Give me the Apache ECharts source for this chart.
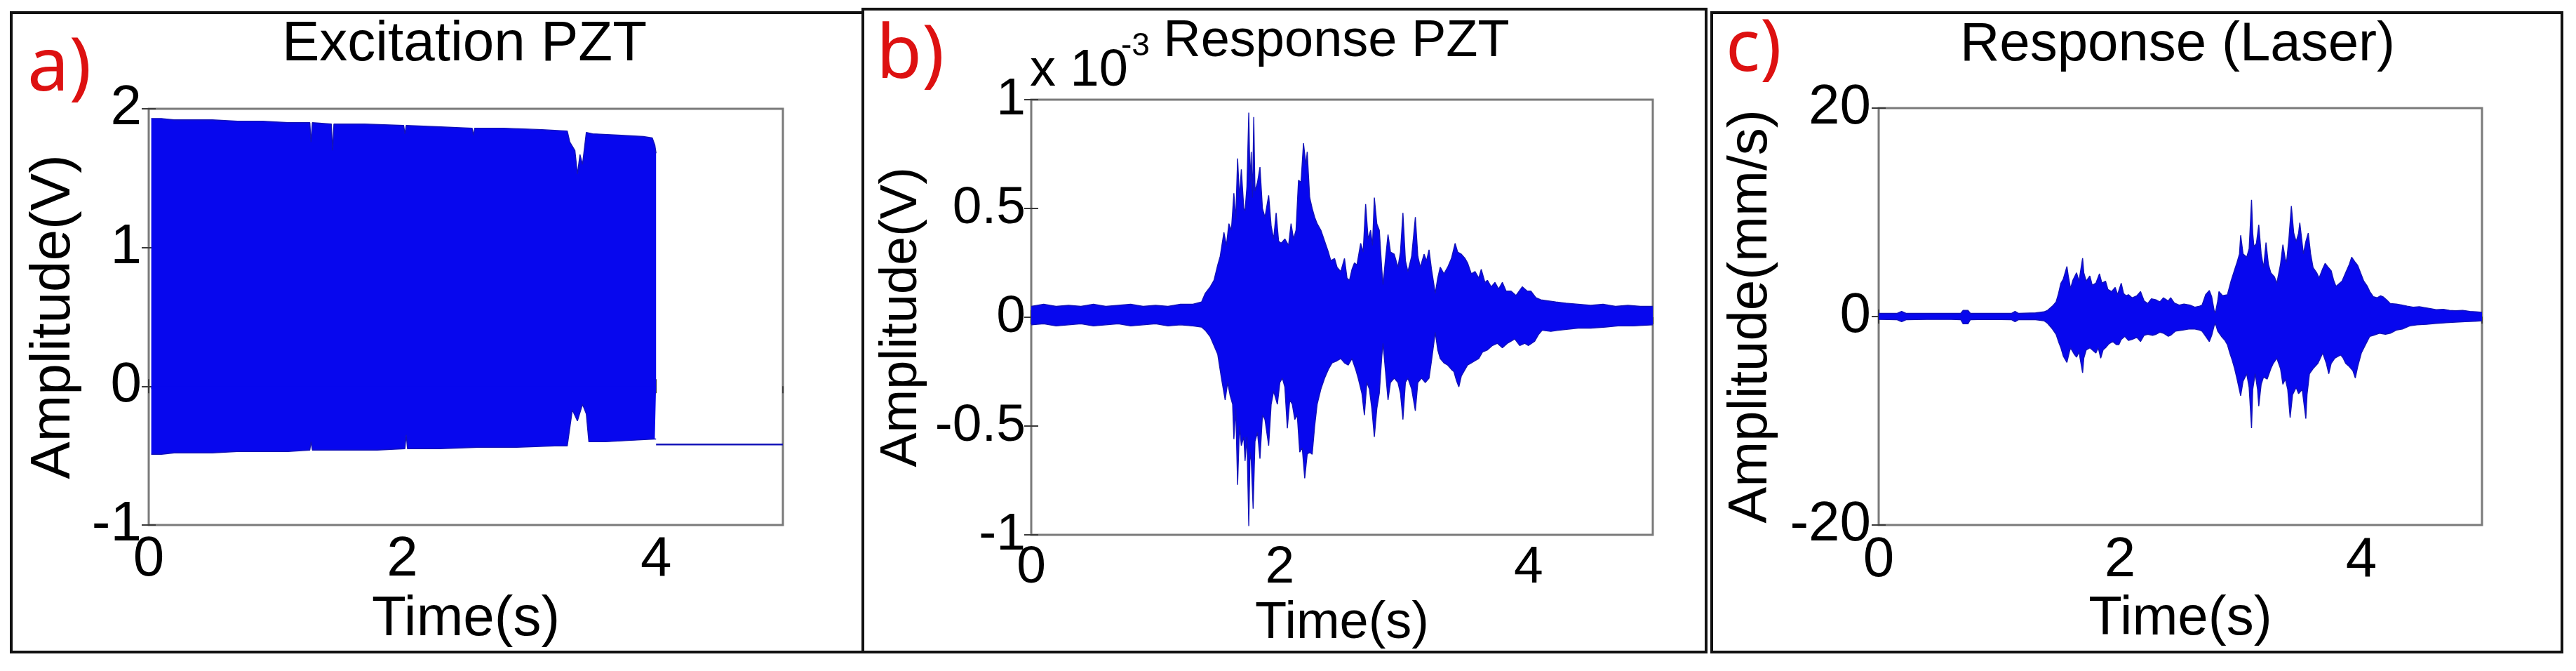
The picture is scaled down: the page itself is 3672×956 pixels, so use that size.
<!DOCTYPE html>
<html>
<head>
<meta charset="utf-8">
<script src="https://cdn.jsdelivr.net/npm/echarts@6.0.0/dist/echarts.min.js"></script>
<style>
html,body{margin:0;padding:0;background:#fff;}
#chart{width:3672px;height:956px;}
</style>
</head>
<body>
<div id="chart"></div>
<script>
// ---------- DATA ----------
// x tick labels (seconds)
const timeTicks = [0, 2, 4];
// y tick labels per panel
const excTicks = [-1, 0, 1, 2];
const respPztTicks = [-1, -0.5, 0, 0.5, 1];   // x 10^-3 V
const laserTicks = [-20, 0, 20];

// a) Excitation PZT : upper / lower envelope of the burst (V)
const excUpperT = [0.02,0.05,0.10,0.20,0.30,0.50,0.70,0.90,1.10,1.27,1.28,1.29,1.44,1.45,1.46,1.70,2.01,2.02,2.03,2.30,2.55,2.56,2.57,2.80,3.10,3.30,3.32,3.36,3.38,3.40,3.42,3.45,3.50,3.70,3.90,3.97,3.99,4.00];
const excUpper  = [1.93,1.93,1.93,1.92,1.92,1.92,1.91,1.91,1.90,1.90,1.76,1.90,1.89,1.70,1.89,1.89,1.88,1.82,1.88,1.87,1.86,1.81,1.86,1.86,1.85,1.84,1.76,1.70,1.53,1.67,1.60,1.83,1.82,1.81,1.80,1.79,1.74,1.68];
const excLowerT = [0.02,0.05,0.10,0.20,0.30,0.50,0.70,0.90,1.10,1.27,1.28,1.29,1.50,1.80,2.02,2.03,2.04,2.30,2.60,2.90,3.20,3.30,3.32,3.34,3.38,3.42,3.45,3.47,3.60,3.80,3.99,4.00];
const excLower  = [-0.49,-0.49,-0.49,-0.48,-0.48,-0.48,-0.47,-0.47,-0.47,-0.46,-0.40,-0.46,-0.46,-0.46,-0.45,-0.35,-0.45,-0.45,-0.44,-0.44,-0.43,-0.43,-0.30,-0.17,-0.25,-0.13,-0.20,-0.40,-0.40,-0.39,-0.38,-0.38];
// after the burst the excitation rests at a constant offset
const excTailT = [4.0, 5.0];
const excTail  = [-0.42, -0.42];

// b) Response PZT (x 10^-3 V)
const respPztUpperT = [0,0.1,0.2,0.3,0.4,0.5,0.6,0.7,0.8,0.9,1.0,1.1,1.2,1.3,1.37,1.40,1.44,1.47,1.50,1.52,1.55,1.57,1.59,1.61,1.63,1.645,1.66,1.675,1.69,1.71,1.72,1.735,1.75,1.76,1.77,1.78,1.79,1.80,1.82,1.84,1.86,1.88,1.91,1.93,1.95,1.97,1.99,2.01,2.04,2.07,2.09,2.11,2.13,2.15,2.17,2.19,2.21,2.22,2.24,2.26,2.28,2.30,2.33,2.36,2.39,2.41,2.44,2.46,2.49,2.52,2.54,2.56,2.58,2.60,2.62,2.65,2.67,2.69,2.71,2.73,2.745,2.76,2.78,2.80,2.82,2.83,2.85,2.87,2.89,2.92,2.95,2.97,2.99,3.01,3.03,3.06,3.09,3.11,3.13,3.16,3.18,3.20,3.22,3.25,3.27,3.29,3.32,3.35,3.38,3.41,3.43,3.46,3.49,3.51,3.54,3.57,3.60,3.62,3.65,3.67,3.70,3.73,3.76,3.79,3.82,3.86,3.90,3.95,3.99,4.02,4.06,4.10,4.16,4.22,4.30,4.40,4.50,4.60,4.70,4.80,4.90,5.0];
const respPztUpper  = [0.05,0.06,0.05,0.055,0.05,0.06,0.05,0.055,0.06,0.05,0.055,0.05,0.06,0.06,0.07,0.11,0.14,0.17,0.24,0.28,0.39,0.33,0.43,0.40,0.57,0.45,0.73,0.55,0.68,0.50,0.49,0.60,0.94,0.62,0.76,0.55,0.92,0.58,0.62,0.69,0.50,0.46,0.56,0.42,0.36,0.48,0.35,0.34,0.36,0.33,0.43,0.36,0.40,0.63,0.62,0.80,0.70,0.76,0.55,0.50,0.46,0.43,0.40,0.35,0.30,0.26,0.27,0.23,0.21,0.27,0.18,0.17,0.22,0.25,0.24,0.34,0.30,0.52,0.36,0.40,0.33,0.55,0.43,0.40,0.22,0.15,0.27,0.38,0.30,0.29,0.23,0.30,0.48,0.26,0.21,0.28,0.46,0.28,0.23,0.29,0.26,0.31,0.22,0.11,0.18,0.23,0.20,0.23,0.27,0.34,0.30,0.29,0.27,0.25,0.20,0.21,0.18,0.22,0.16,0.17,0.14,0.16,0.13,0.16,0.12,0.12,0.10,0.14,0.12,0.12,0.09,0.08,0.075,0.07,0.065,0.06,0.055,0.06,0.05,0.055,0.05,0.05];
const respPztLowerT = [0,0.1,0.2,0.3,0.4,0.5,0.6,0.7,0.8,0.9,1.0,1.1,1.2,1.3,1.37,1.40,1.44,1.47,1.50,1.53,1.56,1.58,1.60,1.62,1.63,1.645,1.66,1.675,1.69,1.71,1.72,1.735,1.75,1.76,1.77,1.785,1.80,1.82,1.84,1.86,1.88,1.91,1.93,1.95,1.98,2.00,2.02,2.04,2.06,2.08,2.10,2.12,2.14,2.16,2.18,2.20,2.22,2.24,2.26,2.28,2.30,2.33,2.36,2.39,2.42,2.46,2.49,2.52,2.55,2.58,2.61,2.63,2.66,2.68,2.70,2.72,2.74,2.76,2.78,2.80,2.82,2.83,2.85,2.87,2.89,2.92,2.95,2.97,2.99,3.01,3.03,3.06,3.09,3.11,3.14,3.17,3.20,3.22,3.25,3.27,3.29,3.32,3.35,3.38,3.40,3.42,3.44,3.46,3.48,3.51,3.54,3.57,3.60,3.63,3.67,3.71,3.75,3.79,3.83,3.86,3.89,3.93,3.97,4.00,4.05,4.08,4.11,4.18,4.24,4.32,4.40,4.50,4.62,4.72,4.84,5.0];
const respPztLower  = [-0.035,-0.03,-0.04,-0.035,-0.03,-0.04,-0.035,-0.03,-0.04,-0.035,-0.03,-0.04,-0.035,-0.04,-0.045,-0.06,-0.09,-0.13,-0.17,-0.28,-0.38,-0.30,-0.36,-0.40,-0.56,-0.42,-0.77,-0.50,-0.59,-0.55,-0.66,-0.55,-0.96,-0.62,-0.66,-0.88,-0.57,-0.53,-0.65,-0.45,-0.47,-0.59,-0.40,-0.34,-0.40,-0.30,-0.28,-0.32,-0.51,-0.38,-0.40,-0.47,-0.45,-0.62,-0.60,-0.74,-0.63,-0.62,-0.63,-0.50,-0.40,-0.33,-0.28,-0.24,-0.21,-0.20,-0.19,-0.21,-0.22,-0.19,-0.24,-0.28,-0.35,-0.45,-0.30,-0.33,-0.42,-0.55,-0.42,-0.35,-0.18,-0.12,-0.25,-0.38,-0.30,-0.28,-0.30,-0.35,-0.47,-0.30,-0.28,-0.33,-0.43,-0.30,-0.28,-0.30,-0.28,-0.20,-0.07,-0.15,-0.19,-0.21,-0.22,-0.24,-0.25,-0.29,-0.32,-0.27,-0.25,-0.22,-0.21,-0.20,-0.19,-0.16,-0.15,-0.13,-0.12,-0.14,-0.12,-0.11,-0.10,-0.13,-0.12,-0.13,-0.11,-0.08,-0.06,-0.065,-0.06,-0.055,-0.05,-0.05,-0.045,-0.04,-0.04,-0.035];

// c) Response (Laser) (mm/s)
const laserUpperT = [0,0.15,0.19,0.23,0.4,0.6,0.68,0.70,0.74,0.76,0.9,1.1,1.13,1.16,1.30,1.37,1.40,1.44,1.47,1.49,1.51,1.53,1.56,1.57,1.59,1.61,1.64,1.66,1.69,1.70,1.72,1.75,1.77,1.80,1.83,1.85,1.88,1.90,1.93,1.96,1.98,2.01,2.03,2.05,2.07,2.10,2.14,2.17,2.20,2.23,2.26,2.30,2.33,2.36,2.40,2.42,2.45,2.49,2.53,2.58,2.62,2.66,2.68,2.71,2.74,2.76,2.78,2.79,2.81,2.82,2.85,2.89,2.92,2.95,2.97,2.99,3.00,3.02,3.05,3.07,3.09,3.10,3.11,3.13,3.15,3.17,3.19,3.21,3.23,3.25,3.28,3.30,3.33,3.35,3.37,3.38,3.40,3.42,3.44,3.46,3.48,3.49,3.51,3.52,3.54,3.56,3.58,3.60,3.63,3.65,3.68,3.70,3.72,3.75,3.77,3.79,3.82,3.84,3.87,3.90,3.92,3.95,3.97,4.00,4.02,4.05,4.07,4.10,4.13,4.16,4.18,4.21,4.24,4.29,4.34,4.38,4.43,4.48,4.53,4.58,4.62,4.68,4.73,4.78,4.84,4.90,4.95,5.0];
const laserUpper  = [0.3,0.3,0.5,0.3,0.3,0.3,0.3,0.6,0.6,0.3,0.3,0.3,0.5,0.3,0.35,0.45,0.6,1.0,1.4,2.2,3.2,3.6,4.8,4.0,2.7,3.5,4.2,3.4,5.6,4.2,3.4,3.9,3.0,3.2,4.1,3.2,3.4,2.6,2.4,2.8,2.1,3.2,2.2,2.0,2.1,1.8,2.0,2.4,1.5,1.25,1.7,1.6,1.4,1.8,1.5,1.8,1.3,1.1,1.2,1.1,0.9,1.0,1.1,2.1,2.5,1.9,0.6,0.35,1.5,2.4,2.0,2.1,3.4,4.5,5.2,6.0,7.8,6.0,5.7,6.5,11.2,8.0,6.7,7.0,8.8,6.0,4.7,7.1,5.0,4.2,3.8,3.2,5.0,6.9,5.5,5.2,7.5,10.6,8.0,7.2,8.0,9.0,7.0,6.0,7.2,8.0,6.0,4.7,4.2,3.7,4.6,5.1,4.8,4.4,3.5,2.9,3.2,3.4,4.2,5.0,5.7,5.2,4.9,4.0,3.4,2.9,2.4,1.9,1.8,2.0,1.9,1.6,1.25,1.2,1.1,1.0,0.9,0.95,0.85,0.75,0.66,0.7,0.6,0.56,0.6,0.5,0.45,0.4];
const laserLowerT = [0,0.15,0.19,0.23,0.4,0.6,0.68,0.70,0.74,0.76,0.9,1.1,1.13,1.16,1.30,1.37,1.40,1.44,1.47,1.49,1.51,1.53,1.56,1.58,1.59,1.62,1.64,1.66,1.69,1.70,1.72,1.75,1.78,1.80,1.82,1.84,1.86,1.88,1.91,1.94,1.97,1.99,2.01,2.04,2.07,2.10,2.14,2.17,2.20,2.23,2.27,2.30,2.33,2.36,2.40,2.42,2.46,2.52,2.57,2.62,2.66,2.68,2.71,2.74,2.76,2.78,2.79,2.81,2.84,2.87,2.89,2.91,2.93,2.95,2.97,3.00,3.02,3.05,3.07,3.09,3.10,3.12,3.14,3.15,3.17,3.19,3.22,3.25,3.27,3.30,3.33,3.35,3.37,3.39,3.41,3.43,3.46,3.48,3.51,3.54,3.55,3.57,3.60,3.64,3.66,3.68,3.71,3.73,3.75,3.78,3.81,3.83,3.85,3.87,3.90,3.93,3.95,3.97,4.00,4.03,4.07,4.10,4.15,4.20,4.24,4.29,4.34,4.40,4.46,4.54,4.62,4.70,4.78,4.86,4.94,5.0];
const laserLower  = [-0.28,-0.3,-0.5,-0.3,-0.28,-0.28,-0.3,-0.7,-0.7,-0.3,-0.28,-0.3,-0.5,-0.3,-0.3,-0.4,-0.66,-1.2,-1.7,-2.4,-3.0,-3.8,-4.4,-3.4,-3.0,-3.6,-3.9,-3.4,-5.4,-4.0,-3.2,-3.0,-3.3,-3.5,-3.0,-4.0,-3.2,-3.0,-2.6,-2.4,-2.7,-2.7,-2.2,-1.9,-2.3,-2.2,-2.0,-2.4,-1.8,-1.7,-1.8,-1.7,-1.5,-1.6,-1.9,-1.8,-1.4,-1.3,-1.2,-1.2,-1.3,-1.4,-1.9,-2.4,-1.8,-0.9,-0.66,-1.4,-1.9,-2.3,-2.7,-3.5,-4.2,-5.0,-6.0,-7.6,-6.2,-5.5,-6.8,-10.7,-7.0,-5.5,-7.0,-8.6,-6.5,-5.8,-6.0,-5.0,-4.5,-4.0,-5.0,-6.5,-6.0,-7.0,-9.7,-7.5,-6.8,-7.4,-7.0,-9.8,-7.5,-5.5,-5.0,-4.5,-4.0,-3.5,-4.5,-5.5,-4.5,-4.0,-3.8,-3.7,-4.0,-4.5,-4.8,-5.2,-5.9,-4.8,-3.5,-2.8,-1.9,-1.8,-1.6,-1.7,-1.6,-1.3,-1.2,-0.9,-0.8,-0.75,-0.66,-0.6,-0.54,-0.5,-0.45,-0.4];

// ---------- CHART ----------
const FONT = "'Liberation Sans', Arial, sans-serif";
const BLUE_FILL = '#0707ee';
const BLUE_LINE = '#1313b8';

const panels = [
  {grid:{left:212, top:155, width:904, height:593}, yMin:-1, yMax:2, yInt:1, tickFont:80, yMargin:10, xMargin:10,
   yName:'Amplitude(V)', yNameFont:80, yNameGap:95, xNameFont:80, xNameGap:91, overlap:-0.02},
  {grid:{left:1470, top:142, width:886, height:620}, yMin:-1, yMax:1, yInt:0.5, tickFont:75, yMargin:8, xMargin:10,
   yName:'Amplitude(V)', yNameFont:74, yNameGap:147, xNameFont:74, xNameGap:83, overlap:-0.01},
  {grid:{left:2678, top:154, width:860, height:594}, yMin:-20, yMax:20, yInt:20, tickFont:80, yMargin:11, xMargin:11,
   yName:'Amplitude(mm/s)', yNameFont:78, yNameGap:143, xNameFont:78, xNameGap:92, overlap:-0.1}
];

const tickStyle = {show:true, inside:true, length:10, lineStyle:{color:'#3a3a3a', width:2}};
const grids = [], xAxes = [], yAxes = [];
panels.forEach((p, i) => {
  grids.push(Object.assign({show:true, borderColor:'#7a7a7a', borderWidth:3, backgroundColor:'transparent'}, p.grid));
  const xBase = {type:'value', gridIndex:i, min:0, max:5, interval:2, splitLine:{show:false}, axisLine:{show:false}, axisTick:tickStyle};
  xAxes.push(Object.assign({}, xBase, {
    position:'bottom',
    axisLabel:{show:true, fontSize:p.tickFont, fontFamily:FONT, color:'#000', margin:p.xMargin, showMaxLabel:false,
      formatter: v => (timeTicks.indexOf(v) >= 0 ? String(v) : '')},
    name:'Time(s)', nameLocation:'middle', nameGap:p.xNameGap,
    nameTextStyle:{fontSize:p.xNameFont, fontFamily:FONT, color:'#000'}
  }));
  xAxes.push(Object.assign({}, xBase, {position:'top', axisLabel:{show:false}}));
  const yBase = {type:'value', gridIndex:i, min:p.yMin, max:p.yMax, interval:p.yInt, splitLine:{show:false}, axisLine:{show:false}, axisTick:tickStyle};
  yAxes.push(Object.assign({}, yBase, {
    position:'left',
    axisLabel:{show:true, fontSize:p.tickFont, fontFamily:FONT, color:'#000', margin:p.yMargin},
    name:p.yName, nameLocation:'middle', nameGap:p.yNameGap, nameRotate:90,
    nameTextStyle:{fontSize:p.yNameFont, fontFamily:FONT, color:'#000'}
  }));
  yAxes.push(Object.assign({}, yBase, {position:'right', axisLabel:{show:false}}));
});

const zip = (T, V) => T.map((t, k) => [t, V[k]]);
function env(name, i, T, V, origin) {
  return {type:'line', name, xAxisIndex:2*i, yAxisIndex:2*i, data:zip(T, V), showSymbol:false, symbol:'none',
    animation:false, lineStyle:{color:BLUE_LINE, width:1.4}, areaStyle:{color:BLUE_FILL, opacity:1, origin:origin}, z:3};
}
const series = [
  env('excitation upper', 0, excUpperT, excUpper, panels[0].overlap),
  env('excitation lower', 0, excLowerT, excLower, 'auto'),
  {type:'line', name:'excitation rest', xAxisIndex:0, yAxisIndex:0, data:zip(excTailT, excTail), showSymbol:false, symbol:'none',
    animation:false, lineStyle:{color:BLUE_LINE, width:2.5}, z:3},
  env('response PZT upper', 1, respPztUpperT, respPztUpper, panels[1].overlap),
  env('response PZT lower', 1, respPztLowerT, respPztLower, 'auto'),
  env('laser upper', 2, laserUpperT, laserUpper, panels[2].overlap),
  env('laser lower', 2, laserLowerT, laserLower, 'auto')
];

const textStyle = (text, x, y, size, extra) => ({
  type:'text', x, y, z:100,
  style:Object.assign({text, fill:'#000', font:size + "px 'Liberation Sans', Arial, sans-serif", textAlign:'center', textVerticalAlign:'middle'}, extra || {})
});
const RED = '#dd1111';
const redFont = "106px 'Noto Sans', 'Open Sans', sans-serif";
const graphic = [
  {type:'rect', shape:{x:16, y:18, width:1214, height:911}, style:{fill:'none', stroke:'#111', lineWidth:4}, z:50},
  {type:'rect', shape:{x:1230, y:13, width:1202, height:916}, style:{fill:'none', stroke:'#111', lineWidth:4}, z:50},
  {type:'rect', shape:{x:2440, y:18, width:1212, height:911}, style:{fill:'none', stroke:'#111', lineWidth:4}, z:50},
  textStyle('Excitation PZT', 662, 64, 80),
  textStyle('Response PZT', 1905, 60, 74),
  textStyle('Response (Laser)', 3104, 64, 78),
  textStyle('x 10', 1468, 102, 74, {textAlign:'left'}),
  textStyle('-3', 1598, 66, 46, {textAlign:'left'}),
  {type:'text', x:39, y:99, z:100, style:{text:'a)', fill:RED, font:redFont, textAlign:'left', textVerticalAlign:'middle'}},
  {type:'text', x:1249, y:81, z:100, style:{text:'b)', fill:RED, font:redFont, textAlign:'left', textVerticalAlign:'middle'}},
  {type:'text', x:2460, y:72, z:100, style:{text:'c)', fill:RED, font:"102px 'Noto Sans', 'Open Sans', sans-serif", textAlign:'left', textVerticalAlign:'middle'}}
];

const chart = echarts.init(document.getElementById('chart'), null, {renderer:'canvas', width:3672, height:956});
chart.setOption({
  backgroundColor:'#ffffff',
  animation:false,
  grid:grids, xAxis:xAxes, yAxis:yAxes, series, graphic
});
</script>
</body>
</html>
